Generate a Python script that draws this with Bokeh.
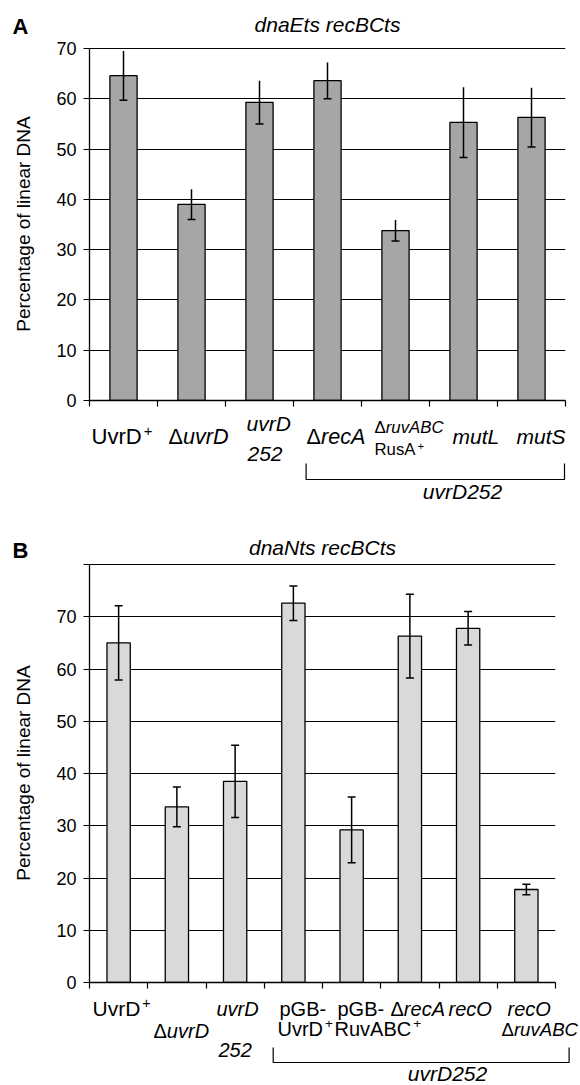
from bokeh.plotting import figure
from bokeh.models import Range1d, FixedTicker
from bokeh.layouts import column
from bokeh.core.properties import value
from bokeh.embed import file_html
from bokeh.resources import INLINE

# ---------------- data ----------------
A_title = "dnaEts recBCts"
A_categories = ["UvrD+", "ΔuvrD", "uvrD 252", "ΔrecA", "ΔruvABC RusA+", "mutL", "mutS"]
A_values = [64.6, 39.0, 59.3, 63.6, 33.8, 55.3, 56.3]
A_errors = [4.9, 3.0, 4.3, 3.6, 2.1, 7.0, 5.9]
A_ticks = [0, 10, 20, 30, 40, 50, 60, 70]

B_title = "dnaNts recBCts"
B_categories = ["UvrD+", "ΔuvrD", "uvrD 252", "pGB-UvrD+", "pGB-RuvABC+", "ΔrecA", "recO", "recO ΔruvABC"]
B_values = [65.0, 33.6, 38.5, 72.6, 29.2, 66.3, 67.8, 17.8]
B_errors = [7.1, 3.8, 6.9, 3.3, 6.3, 8.0, 3.2, 1.0]
B_ticks = [0, 10, 20, 30, 40, 50, 60, 70, 80]

group_label = "uvrD252"
y_label = "Percentage of linear DNA"

FONT = "Liberation Sans"
LEFT = 89
BASE_FIX = 0.33   # renderer places the alphabetic baseline ~1/3 em low; compensate

# Arial / Liberation Sans advance widths (per 1000 em)
W = {' ': 278, '+': 584, '-': 333, 'A': 667, 'B': 667, 'C': 722, 'D': 722, 'E': 667,
     'G': 778, 'L': 556, 'N': 722, 'O': 778, 'R': 722, 'S': 667, 'U': 722,
     'a': 556, 'c': 500, 'd': 556, 'e': 556, 'm': 833, 'n': 556, 'p': 556, 'r': 333,
     's': 500, 't': 278, 'u': 556, 'v': 500, 'Δ': 668}


def tw(s, size):
    return sum(W.get(ch, 556) for ch in s) * size / 1000.0


def no_align(p):
    if "frame_align" in p.properties():
        p.frame_align = False


def bar_panel(cats, vals, errs, ticks, ymax, fill, H, top, bottom, right, caps_top):
    n = len(cats)
    p = figure(width=580, height=H, x_range=Range1d(0, n), y_range=Range1d(0, ymax),
               output_backend="svg", toolbar_location=None,
               min_border_left=LEFT, min_border_right=right,
               min_border_top=top, min_border_bottom=bottom)
    no_align(p)
    p.outline_line_color = None

    p.xaxis.ticker = FixedTicker(ticks=list(range(n + 1)))
    p.xaxis.major_label_overrides = {i: "" for i in range(n + 1)}
    p.xaxis.major_label_text_font_size = "1px"
    p.xaxis.major_label_standoff = 0
    p.xaxis.major_tick_out = 6
    p.xaxis.major_tick_in = 0
    p.xaxis.minor_tick_out = 0
    p.xaxis.minor_tick_in = 0
    p.xaxis.axis_line_color = "black"
    p.xaxis.major_tick_line_color = "black"
    p.xaxis.axis_line_width = 1.3
    p.xaxis.major_tick_line_width = 1.2

    p.yaxis.ticker = FixedTicker(ticks=ticks)
    p.yaxis.bounds = (0, ticks[-1])
    p.yaxis.major_label_overrides = {t: "" for t in ticks if t > 70}
    p.yaxis.major_tick_out = 6
    p.yaxis.major_tick_in = 0
    p.yaxis.minor_tick_out = 0
    p.yaxis.minor_tick_in = 0
    p.yaxis.axis_line_color = "black"
    p.yaxis.axis_line_width = 1.3
    p.yaxis.major_tick_line_color = "black"
    p.yaxis.major_tick_line_width = 1.2
    p.yaxis.major_label_text_font = FONT
    p.yaxis.major_label_text_font_size = "18px"
    p.yaxis.major_label_text_color = "black"
    p.yaxis.major_label_standoff = 7
    p.yaxis.axis_label = y_label
    p.yaxis.axis_label_text_font = FONT
    p.yaxis.axis_label_text_font_size = "19px"
    p.yaxis.axis_label_text_font_style = "normal"
    p.yaxis.axis_label_text_color = "black"
    p.yaxis.axis_label_standoff = 19

    p.xgrid.visible = False
    p.ygrid.ticker = FixedTicker(ticks=[t for t in ticks if t > 0])
    p.ygrid.grid_line_color = "black"
    p.ygrid.grid_line_width = 1.1

    centers = [i + 0.5 for i in range(n)]
    lows = [v - e for v, e in zip(vals, errs)]
    highs = [v + e for v, e in zip(vals, errs)]
    p.vbar(x=centers, top=vals, bottom=0, width=0.4, fill_color=fill,
           line_color="black", line_width=1.3)
    p.segment(x0=centers, y0=lows, x1=centers, y1=highs, line_color="black", line_width=1.5)
    p.scatter(x=centers, y=lows, marker="dash", size=8, line_color="black", line_width=1.5)
    if caps_top:
        p.scatter(x=centers, y=highs, marker="dash", size=8, line_color="black", line_width=1.5)
    return p


def text_fig(top_abs, h):
    # a figure whose frame is the whole canvas, in page pixel coordinates (y downward)
    t = figure(width=580, height=h, x_range=Range1d(0, 580), y_range=Range1d(top_abs + h, top_abs),
               output_backend="svg", toolbar_location=None, x_axis_type=None, y_axis_type=None,
               min_border_left=0, min_border_right=0, min_border_top=0, min_border_bottom=0)
    no_align(t)
    t.outline_line_color = None
    t.xgrid.visible = False
    t.ygrid.visible = False
    return t


def put(t, x, y, text, size, style="normal", align="left"):
    t.text(x=[x], y=[y - BASE_FIX * size], text=[text], text_font=value(FONT),
           text_font_size=value(f"{size:.1f}px"),
           text_font_style=style, text_color="black", text_align=align,
           text_baseline="alphabetic")


def rich_lines(t, lines, lsize):
    for x_px, base, runs, scale in lines:
        size = lsize * scale
        x = x_px
        for text, st in runs:
            if st == "sup":
                fs = size * 0.68
                put(t, x + 2, base - size * 0.36, text, fs)
                x += tw(text, fs) + 2
            else:
                put(t, x, base, text, size, "italic" if st == "i" else "normal")
                x += tw(text, size)


def bracket(t, x1, x2, y1, y2):
    t.line(x=[x1, x1, x2, x2], y=[y1, y2, y2, y1], line_color="black", line_width=1.2)


A_lines = [
    (91, 443, [("UvrD", "n"), ("+", "sup")], 1.05),
    (168, 443, [("Δ", "n"), ("uvrD", "i")], 1.03),
    (246, 430, [("uvrD", "i")], 1.0),
    (247, 460, [("252", "i")], 1.0),
    (306, 443, [("Δ", "n"), ("recA", "i")], 1.03),
    (374, 433, [("Δ", "n"), ("ruvABC", "i")], 0.8),
    (374, 455, [("RusA", "n"), ("+", "sup")], 0.8),
    (452, 443, [("mutL", "i")], 1.0),
    (516, 443, [("mutS", "i")], 1.0),
]
B_lines = [
    (92, 1015, [("UvrD", "n"), ("+", "sup")], 1.05),
    (153, 1037, [("Δ", "n"), ("uvrD", "i")], 1.0),
    (216, 1015, [("uvrD", "i")], 1.0),
    (218, 1056, [("252", "i")], 1.0),
    (279, 1015, [("pGB-", "n")], 1.0),
    (277, 1035, [("UvrD", "n"), ("+", "sup")], 1.0),
    (337, 1015, [("pGB-", "n")], 1.0),
    (334, 1035, [("RuvABC", "n"), ("+", "sup")], 1.0),
    (390, 1015, [("Δ", "n"), ("recA", "i")], 1.0),
    (448, 1015, [("recO", "i")], 1.0),
    (507, 1015, [("recO", "i")], 1.0),
    (501, 1035, [("Δ", "n"), ("ruvABC", "i")], 0.93),
]

# --- panel A header (0..40)
tA = text_fig(0, 40)
put(tA, LEFT + (580 - LEFT - 15) / 2, 31, A_title, 21, "italic", "center")
put(tA, 12, 33, "A", 22, "bold")

# --- panel A bars (40..411, frame 47..400)
pA = bar_panel(A_categories, A_values, A_errors, A_ticks, 70.2, "#a6a6a6",
               371, 7, 11, 15, False)

# --- middle text strip: A category labels + B header (411..563)
tM = text_fig(411, 152)
rich_lines(tM, A_lines, 21)
bracket(tM, 305.6, 564, 463, 479)
put(tM, 462, 498, group_label, 21, "italic", "center")
put(tM, LEFT + (580 - LEFT - 25) / 2, 554, B_title, 21, "italic", "center")
put(tM, 12, 557, "B", 22, "bold")

# --- panel B bars (563..994, frame 563..982)
pB = bar_panel(B_categories, B_values, B_errors, B_ticks, 80.2, "#d9d9d9",
               431, 0, 12, 25, True)

# --- bottom text strip: B category labels (994..1085)
tB = text_fig(994, 91)
rich_lines(tB, B_lines, 20)
bracket(tB, 272.7, 568.6, 1047, 1062)
put(tB, 447, 1080, group_label, 21, "italic", "center")

layout = column(tA, pA, tM, pB, tB, spacing=0)
open("out.html", "w").write(file_html(layout, INLINE))
